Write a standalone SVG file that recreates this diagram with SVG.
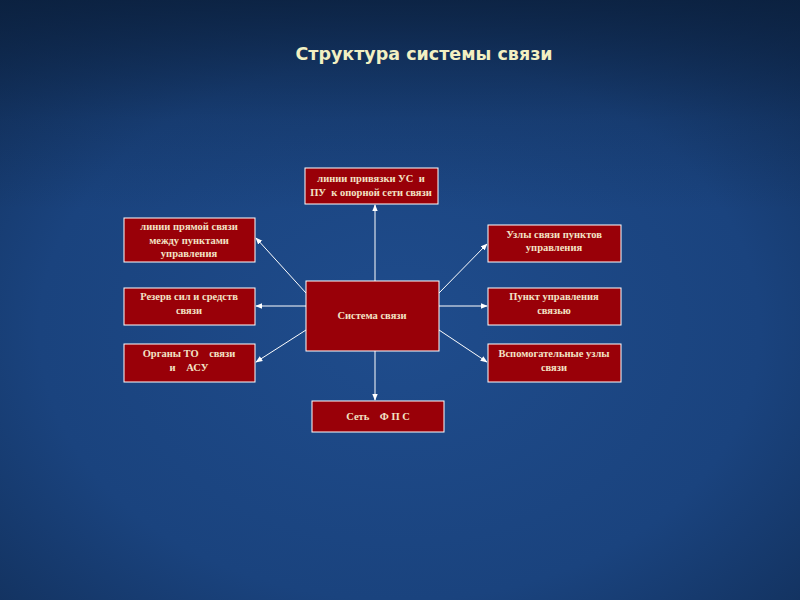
<svg xmlns="http://www.w3.org/2000/svg" width="800" height="600" viewBox="0 0 800 600">
<defs>
<radialGradient id="bg" cx="0.5" cy="0.55" r="0.75">
<stop offset="0" stop-color="#1f4c8c"/>
<stop offset="0.6" stop-color="#1a437e"/>
<stop offset="1" stop-color="#112e58"/>
</radialGradient>
<linearGradient id="top" x1="0" y1="0" x2="0" y2="1">
<stop offset="0" stop-color="#0a1e3a" stop-opacity="0.8"/>
<stop offset="0.2" stop-color="#0a1e3a" stop-opacity="0.2"/>
<stop offset="0.35" stop-color="#0a1e3a" stop-opacity="0"/>
</linearGradient>
<marker id="ah" viewBox="0 0 10 10" refX="9" refY="5" markerWidth="7" markerHeight="7" orient="auto">
<path d="M0,1 L10,5 L0,9 Z" fill="#ffffff"/>
</marker>
<style>
.box{fill:#990008;stroke:#ffffff;stroke-width:1}
.t{font-family:"Liberation Serif","DejaVu Serif",serif;font-weight:bold;font-size:10.5px;fill:#f3e3c6;text-anchor:middle;white-space:pre}
.c{stroke:#ffffff;stroke-width:1;fill:none;marker-end:url(#ah)}
</style>
</defs>
<rect width="800" height="600" fill="url(#bg)"/>
<rect width="800" height="600" fill="url(#top)"/>
<text x="424" y="60" font-family="'DejaVu Sans','Liberation Sans',sans-serif" font-weight="bold" font-size="17.5" fill="#f2f0c2" text-anchor="middle">Структура системы связи</text>
<g id="connectors">
<line class="c" x1="375" y1="281" x2="375" y2="205"/>
<line class="c" x1="306" y1="293" x2="256" y2="238"/>
<line class="c" x1="306" y1="306" x2="256" y2="306"/>
<line class="c" x1="306" y1="330" x2="256" y2="362"/>
<line class="c" x1="439" y1="293" x2="487" y2="244"/>
<line class="c" x1="439" y1="306" x2="487" y2="306"/>
<line class="c" x1="439" y1="330" x2="487" y2="362"/>
<line class="c" x1="375" y1="351" x2="375" y2="400"/>
</g>
<g id="center">
<rect class="box" x="306" y="281" width="133" height="70"/>
<text class="t" x="372" y="319">Система связи</text>
</g>
<g id="top-box">
<rect class="box" x="305" y="168" width="133" height="36"/>
<text class="t" x="371" y="182" xml:space="preserve">линии привязки УС  и</text>
<text class="t" x="371" y="196" xml:space="preserve">ПУ  к опорной сети связи</text>
</g>
<g id="left1">
<rect class="box" x="124" y="218" width="131" height="44"/>
<text class="t" x="189" y="230">линии прямой связи</text>
<text class="t" x="189" y="244">между пунктами</text>
<text class="t" x="189" y="257">управления</text>
</g>
<g id="left2">
<rect class="box" x="124" y="288" width="131" height="37"/>
<text class="t" x="189" y="300">Резерв сил и средств</text>
<text class="t" x="189" y="314">связи</text>
</g>
<g id="left3">
<rect class="box" x="124" y="344" width="131" height="38"/>
<text class="t" x="189" y="357" xml:space="preserve">Органы ТО    связи</text>
<text class="t" x="189" y="371" xml:space="preserve">и    АСУ</text>
</g>
<g id="right1">
<rect class="box" x="488" y="225" width="133" height="37"/>
<text class="t" x="554" y="238">Узлы связи пунктов</text>
<text class="t" x="554" y="251">управления</text>
</g>
<g id="right2">
<rect class="box" x="488" y="288" width="133" height="37"/>
<text class="t" x="554" y="300">Пункт управления</text>
<text class="t" x="554" y="314">связью</text>
</g>
<g id="right3">
<rect class="box" x="488" y="344" width="133" height="38"/>
<text class="t" x="554" y="357">Вспомогательные узлы</text>
<text class="t" x="554" y="371">связи</text>
</g>
<g id="bottom">
<rect class="box" x="312" y="401" width="132" height="31"/>
<text class="t" x="378" y="420" xml:space="preserve">Сеть    Ф П С</text>
</g>
</svg>
